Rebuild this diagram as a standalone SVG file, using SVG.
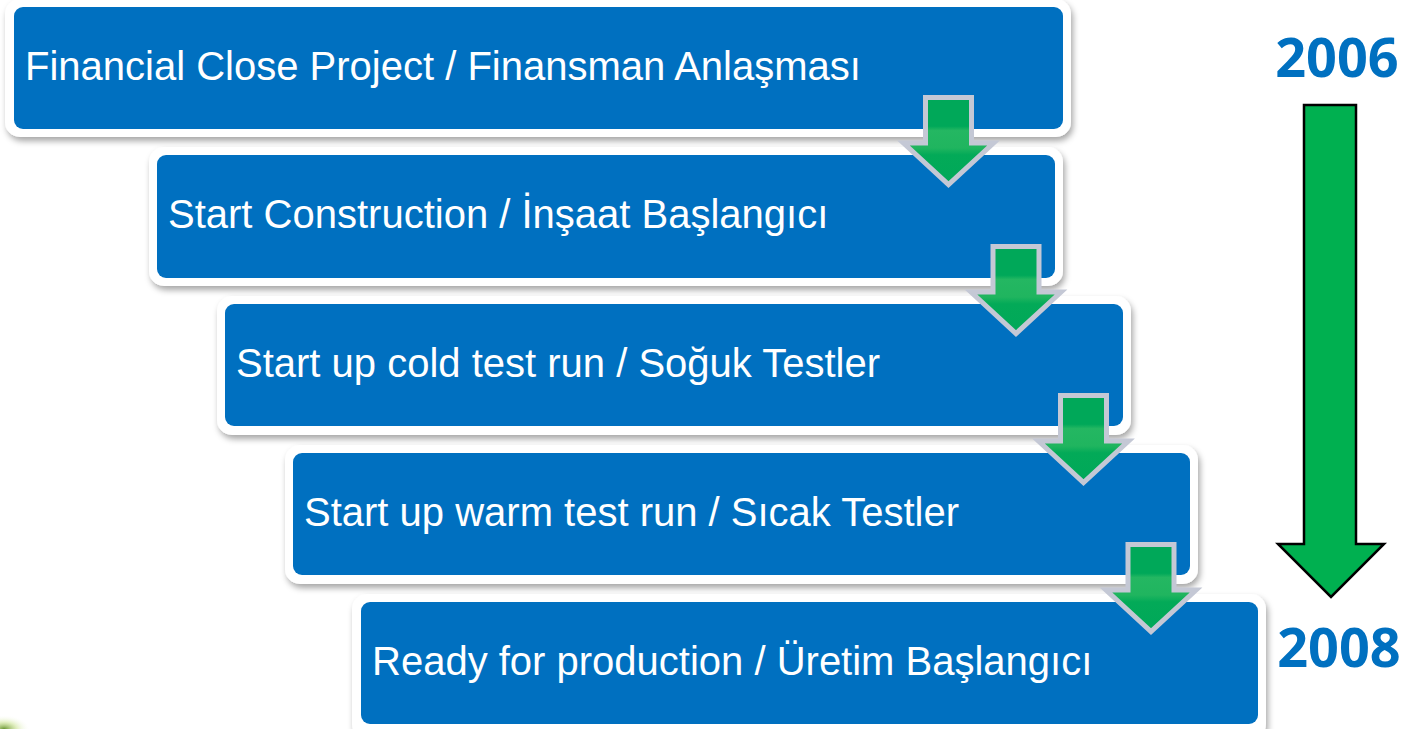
<svg xmlns="http://www.w3.org/2000/svg" width="1414" height="729" viewBox="0 0 1414 729">
  <defs>
    <filter id="shadow" x="-5%" y="-20%" width="110%" height="150%">
      <feDropShadow dx="2" dy="4" stdDeviation="3" flood-color="#000" flood-opacity="0.35"/>
    </filter>
    <linearGradient id="arrowGreen" x1="0" y1="0" x2="0" y2="1">
      <stop offset="0" stop-color="#00a859"/>
      <stop offset="0.33" stop-color="#00a859"/>
      <stop offset="0.38" stop-color="#24b762"/>
      <stop offset="0.58" stop-color="#20b55f"/>
      <stop offset="0.66" stop-color="#03aa58"/>
      <stop offset="1" stop-color="#00a859"/>
    </linearGradient>
    <radialGradient id="cornerGlow" cx="0.5" cy="0.5" r="0.5">
      <stop offset="0" stop-color="#5a8a1e" stop-opacity="0.9"/>
      <stop offset="0.5" stop-color="#b8d86a" stop-opacity="0.4"/>
      <stop offset="1" stop-color="#ffffff" stop-opacity="0"/>
    </radialGradient>
    <path id="stepArrow" d="M-23,0 L23,0 L23,45.5 L45,45.5 L0,87 L-45,45.5 L-23,45.5 Z"/>
  </defs>
  <style>
    .frame { fill: #ffffff; filter: url(#shadow); }
    .box { fill: #0070c0; }
    .label { font-family: "Liberation Sans", Arial, sans-serif; font-size: 40px; fill: #ffffff; }
    .year { font-family: "Open Sans", "Noto Sans", sans-serif; font-weight: bold; font-size: 54px; fill: #0070c0; }
    .step { fill: url(#arrowGreen); stroke: #c4c8d5; stroke-width: 5; stroke-linejoin: miter; }
  </style>
  <rect width="1414" height="729" fill="#ffffff"/>
  <ellipse cx="4" cy="729" rx="26" ry="14" fill="url(#cornerGlow)"/>

  <g id="node-1">
    <rect class="frame" x="5" y="-1" width="1066" height="138" rx="15"/>
    <rect class="box" x="14" y="7" width="1049" height="122" rx="9"/>
    <text class="label" x="25" y="80">Financial Close Project / Finansman Anlaşması</text>
  </g>
  <g id="node-2">
    <rect class="frame" x="149" y="147" width="914" height="139" rx="15"/>
    <rect class="box" x="157" y="155" width="898" height="123" rx="9"/>
    <text class="label" x="168" y="228">Start Construction / İnşaat Başlangıcı</text>
  </g>
  <g id="node-3">
    <rect class="frame" x="217" y="296" width="914" height="139" rx="15"/>
    <rect class="box" x="225" y="304" width="898" height="122" rx="9"/>
    <text class="label" x="236" y="377">Start up cold test run / Soğuk Testler</text>
  </g>
  <g id="node-4">
    <rect class="frame" x="285" y="445" width="913" height="139" rx="15"/>
    <rect class="box" x="293" y="453" width="897" height="122" rx="9"/>
    <text class="label" x="304" y="526">Start up warm test run / Sıcak Testler</text>
  </g>
  <g id="node-5">
    <rect class="frame" x="352" y="594" width="914" height="145" rx="15"/>
    <rect class="box" x="361" y="602" width="897" height="122" rx="9"/>
    <text class="label" x="372" y="675">Ready for production / Üretim Başlangıcı</text>
  </g>

  <g id="connectors">
    <use href="#stepArrow" class="step" transform="translate(948.5,97.5)"/>
    <use href="#stepArrow" class="step" transform="translate(1016,246.5)"/>
    <use href="#stepArrow" class="step" transform="translate(1083.5,395.5)"/>
    <use href="#stepArrow" class="step" transform="translate(1151,544.5)"/>
  </g>

  <g id="timeline">
    <text class="year" x="1337" y="77" text-anchor="middle">2006</text>
    <path d="M1304,105 L1356,105 L1356,544 L1384,544 L1331,597 L1278,544 L1304,544 Z" fill="#00b050" stroke="#000000" stroke-width="2.5" stroke-linejoin="miter"/>
    <text class="year" x="1339" y="667" text-anchor="middle">2008</text>
  </g>
</svg>
